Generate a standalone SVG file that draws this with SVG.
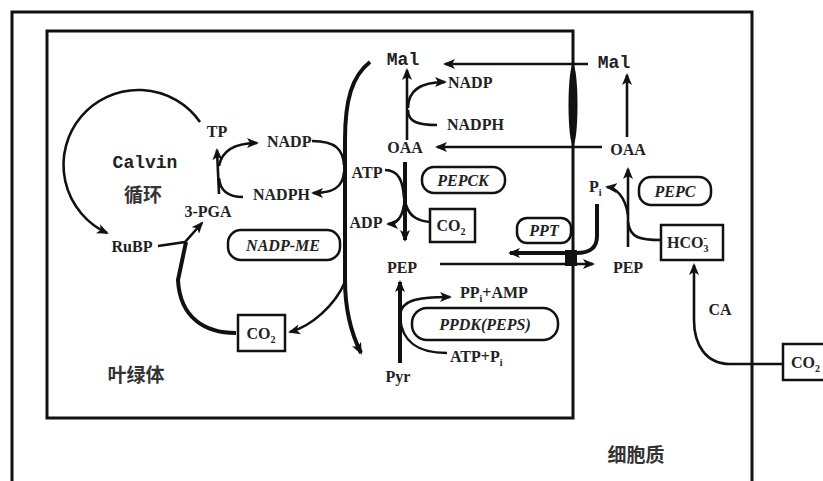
<svg xmlns="http://www.w3.org/2000/svg" width="823" height="481" viewBox="0 0 823 481">
<style>
.t{font-family:"Liberation Serif","DejaVu Serif",serif;font-size:16px;font-weight:bold;fill:#222}
.m{font-family:"Liberation Mono","DejaVu Sans Mono",monospace;font-size:18px;font-weight:bold;fill:#222}
.i{font-style:italic}
.c{text-anchor:middle}
.cjk{font-family:"Noto Sans CJK SC",sans-serif;font-weight:bold;font-size:19px;fill:#333}
.box{fill:#fff;stroke:#111;stroke-width:2.5}
.ln{fill:none;stroke:#111;stroke-width:2.6}
.th{fill:none;stroke:#111;stroke-width:4}
.ar{marker-end:url(#ah)}
</style>
<defs>
<marker id="ah" viewBox="0 0 12 10" refX="10" refY="5" markerWidth="12" markerHeight="10" markerUnits="userSpaceOnUse" orient="auto">
<path d="M0,0 L12,5 L0,10 L3,5 z" fill="#111"/>
</marker>
</defs>
<rect width="823" height="481" fill="#fff"/>
<g id="cell">
<path d="M12 481 L12 12 L752 12 L752 481" fill="none" stroke="#111" stroke-width="3"/>
<text class="cjk c" x="636" y="462">细胞质</text>
</g>
<g id="chloroplast">
<rect x="47" y="31" width="526" height="387" fill="none" stroke="#111" stroke-width="3"/>
<text class="cjk c" x="136" y="382">叶绿体</text>
</g>
<g id="connectors">
<path class="ln ar" d="M200 122 A75 75 0 1 0 107 233"/>
<path class="ln ar" d="M158 246 L185 242 L202 223"/>
<path class="th" d="M236 333 C205 333 180 318 178 280 L186 242"/>
<path class="ln ar" d="M219 194 L217 150"/>
<path class="ln" d="M243 197 C228 197 220 190 219 178"/>
<path class="ln ar" d="M219 166 C222 150 236 143 257 143"/>
<path class="ln" d="M312 141 C336 141 343 150 344 165"/>
<path class="ln ar" d="M344 172 C343 188 332 193 313 193"/>
<path class="th ar" d="M370 62 C352 76 345 100 345 140 L345 280 C345 310 352 335 361 353"/>
<path class="ln ar" d="M345 282 C335 305 312 326 290 332"/>
<path class="ln ar" d="M407 140 L407 70"/>
<path class="ln ar" d="M408 108 C408 92 418 82 445 82"/>
<path class="ln" d="M408 110 C408 122 418 125 437 125"/>
<path class="ln ar" d="M588 64 L445 64"/>
<path class="ln ar" d="M602 147 L437 147"/>
<ellipse cx="573" cy="105" rx="4.5" ry="40" fill="#111"/>
<path class="th ar" d="M405 162 L405 240"/>
<path class="ln" d="M385 170 C398 170 403 180 404 198"/>
<path class="ln ar" d="M404 205 C402 218 396 224 388 224"/>
<path class="ln" d="M406 205 C410 218 420 221 430 222"/>
<path class="ln ar" d="M440 264 L593 264"/>
<path class="th ar" d="M597 204 L597 236 C597 248 590 253 576 253 L510 253"/>
<rect x="565" y="250" width="12" height="16" fill="#111"/>
<path class="ln ar" d="M628 247 L628 169"/>
<path class="ln ar" d="M628 215 C625 196 616 188 607 187"/>
<path class="ln" d="M628 222 C630 238 640 240 661 240"/>
<path class="ln ar" d="M627 137 L627 75"/>
<path class="ln ar" d="M783 364 L730 364 C706 364 694 345 694 320 L694 265"/>
<path class="th ar" d="M400 363 L400 282"/>
<path class="ln ar" d="M400 314 C402 302 412 297 450 297"/>
<path class="ln" d="M400 318 C402 340 415 353 447 353"/>
</g>
<g id="calvin">
<text class="m c" x="145" y="168">Calvin</text>
<text class="cjk c" x="143" y="202">循环</text>
</g>
<g id="TP"><text class="t c" x="217" y="137" font-size="17">TP</text></g>
<g id="PGA"><text class="t c" x="208" y="217" font-size="17">3-PGA</text></g>
<g id="RuBP"><text class="t c" x="132" y="252" font-size="17">RuBP</text></g>
<g id="NADP-left"><text class="t" x="267" y="147">NADP</text></g>
<g id="NADPH-left"><text class="t" x="253" y="200">NADPH</text></g>
<g id="NADP-ME"><rect class="box" x="228" y="230" width="112" height="30" rx="13"/><text class="t i c" x="283" y="251" font-size="16">NADP-ME</text></g>
<g id="CO2-chl"><rect class="box" x="238" y="315" width="47" height="36"/><text class="t c" x="261" y="339">CO<tspan font-size="10" dy="4">2</tspan></text></g>
<g id="Mal-chl"><text class="m c" x="403" y="65">Mal</text></g>
<g id="NADP-mid"><text class="t" x="448" y="88">NADP</text></g>
<g id="NADPH-mid"><text class="t" x="447" y="130">NADPH</text></g>
<g id="OAA-chl"><text class="t c" x="405" y="153">OAA</text></g>
<g id="ATP"><text class="t c" x="367" y="178">ATP</text></g>
<g id="ADP"><text class="t c" x="366" y="228">ADP</text></g>
<g id="PEPCK"><rect class="box" x="422" y="167" width="83" height="26" rx="12"/><text class="t i c" x="463" y="186" font-size="17">PEPCK</text></g>
<g id="CO2-mid"><rect class="box" x="430" y="209" width="45" height="33"/><text class="t c" x="451" y="231">CO<tspan font-size="10" dy="4">2</tspan></text></g>
<g id="PEP-chl"><text class="t c" x="402" y="273" font-size="18">PEP</text></g>
<g id="PPT"><rect class="box" x="517" y="218" width="54" height="25" rx="10"/><text class="t i c" x="544" y="236" font-size="18">PPT</text></g>
<g id="PPi-AMP"><text class="t" x="460" y="298">PP<tspan font-size="10" dy="4">i</tspan><tspan dy="-4">+AMP</tspan></text></g>
<g id="PPDK"><rect class="box" x="412" y="308" width="146" height="32" rx="15"/><text class="t i c" x="485" y="330" font-size="17">PPDK(PEPS)</text></g>
<g id="ATP-Pi"><text class="t" x="450" y="362">ATP+P<tspan font-size="10" dy="4">i</tspan></text></g>
<g id="Pyr"><text class="t c" x="398" y="382" font-size="19">Pyr</text></g>
<g id="Mal-cyt"><text class="m c" x="614" y="68">Mal</text></g>
<g id="OAA-cyt"><text class="t c" x="628" y="155">OAA</text></g>
<g id="Pi"><text class="t" x="589" y="192">P<tspan font-size="10" dy="4">i</tspan></text></g>
<g id="PEPC"><rect class="box" x="639" y="177" width="72" height="28" rx="12"/><text class="t i c" x="675" y="197" font-size="18">PEPC</text></g>
<g id="HCO3"><rect class="box" x="661" y="225" width="62" height="35"/><text class="t" x="667" y="248">HCO<tspan font-size="10" dy="4">3</tspan><tspan font-size="10" dx="-5" dy="-11">-</tspan></text></g>
<g id="PEP-cyt"><text class="t c" x="628" y="273" font-size="18">PEP</text></g>
<g id="CA"><text class="t c" x="720" y="315">CA</text></g>
<g id="CO2-ext"><rect class="box" x="783" y="344" width="50" height="36"/><text class="t" x="791" y="368">CO<tspan font-size="10" dy="4">2</tspan></text></g>
</svg>
